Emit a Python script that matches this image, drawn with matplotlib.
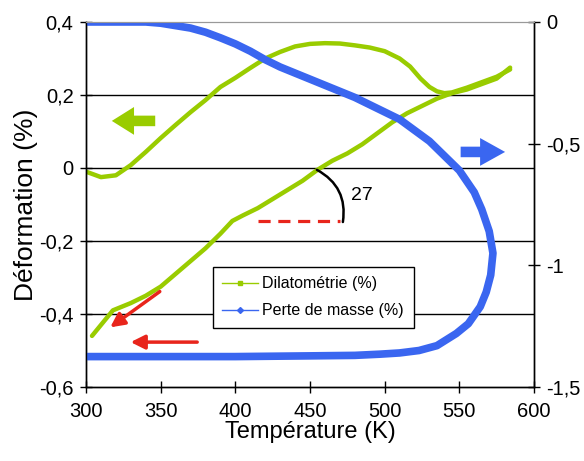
import matplotlib.pyplot as plt
from matplotlib.lines import Line2D

plt.rcParams['font.family'] = ['Liberation Sans', 'DejaVu Sans']

# dilatometry: heating branch then cooling branch (deformation %, left axis)
dil_T_heat = [304, 310, 318, 330, 340, 350, 360, 370, 380, 390, 398, 405, 415, 425, 435,
              445, 455, 465, 475, 485, 495, 505, 515, 525, 535, 545, 555, 565, 575, 584]
dil_heat = [-0.46, -0.43, -0.39, -0.37, -0.35, -0.325, -0.29, -0.255, -0.22, -0.18, -0.145,
            -0.13, -0.11, -0.085, -0.06, -0.035, -0.005, 0.02, 0.04, 0.065, 0.095, 0.125,
            0.15, 0.17, 0.19, 0.205, 0.215, 0.23, 0.245, 0.275]
dil_T_cool = [584, 575, 565, 555, 545, 540, 535, 530, 524, 517, 510, 500, 490, 480, 470, 460,
              450, 440, 430, 420, 410, 400, 390, 380, 370, 360, 350, 340, 330, 320, 310, 300]
dil_cool = [0.27, 0.25, 0.235, 0.22, 0.207, 0.205, 0.21, 0.222, 0.245, 0.278, 0.3, 0.32,
            0.33, 0.336, 0.341, 0.342, 0.34, 0.333, 0.318, 0.30, 0.274, 0.247, 0.222, 0.186,
            0.153, 0.118, 0.082, 0.044, 0.008, -0.02, -0.025, -0.01]

# mass loss (%), right axis
mass_T = [300, 320, 340, 350, 360, 370, 380, 390, 400, 410, 420, 430, 440, 450, 460, 470,
          480, 490, 500, 510, 520, 530, 540, 550, 560, 565, 570, 572.5, 571, 568, 564, 556,
          548, 535, 523, 510, 497, 480, 450, 400, 350, 300]
mass = [0, 0, 0, -0.005, -0.015, -0.025, -0.042, -0.065, -0.09, -0.12, -0.155, -0.185, -0.21,
        -0.235, -0.26, -0.285, -0.31, -0.34, -0.37, -0.40, -0.445, -0.49, -0.55, -0.61,
        -0.70, -0.77, -0.86, -0.95, -1.04, -1.11, -1.17, -1.24, -1.28, -1.33, -1.35, -1.36,
        -1.365, -1.37, -1.372, -1.375, -1.375, -1.375]

left_ticks = [-0.6, -0.4, -0.2, 0, 0.2, 0.4]
left_labels = ['-0,6', '-0,4', '-0,2', '0', '0,2', '0,4']
right_ticks = [-1.5, -1, -0.5, 0]
right_labels = ['-1,5', '-1', '-0,5', '0']
x_ticks = [300, 350, 400, 450, 500, 550, 600]

green = '#99cc00'
blue = '#3a66f0'
red = '#e8251c'

fig = plt.figure(figsize=(5.84, 4.61), dpi=100)
ax = fig.add_axes([0.1473, 0.1605, 0.7671, 0.7918])
ax2 = ax.twinx()

for y in [-0.4, -0.2, 0, 0.2]:
    ax.axhline(y, color='black', lw=1, zorder=0)

ax.plot(dil_T_heat, dil_heat, color=green, lw=3.2, solid_capstyle='round')
ax.plot(dil_T_cool, dil_cool, color=green, lw=3.2, solid_capstyle='round')
ax2.plot(mass_T, mass, color=blue, lw=5.5, solid_capstyle='round')

ax.set_xlim(300, 600)
ax.set_ylim(-0.6, 0.4)
ax2.set_ylim(-1.5, 0)
ax.set_xticks(x_ticks)
ax.set_xticklabels([str(t) for t in x_ticks])
ax.set_yticks(left_ticks)
ax.set_yticklabels(left_labels)
ax2.set_yticks(right_ticks)
ax2.set_yticklabels(right_labels)

for a in (ax, ax2):
    a.tick_params(direction='inout', length=8, width=1, labelsize=14.5, colors='black')
    a.spines['top'].set_color('#999999')
    a.spines['left'].set_linewidth(1)
    a.spines['right'].set_linewidth(1)
    a.spines['bottom'].set_linewidth(1)
ax.tick_params(axis='x', pad=7)
ax.tick_params(axis='y', pad=5)
ax2.tick_params(axis='y', pad=5)

ax.set_xlabel('Température (K)', fontsize=17, labelpad=0)
ax.set_ylabel('Déformation (%)', fontsize=19, labelpad=1)

# direction arrows
ax.annotate('', xy=(315.4, 0.129), xytext=(348.2, 0.129),
            arrowprops=dict(arrowstyle='simple,head_length=0.8,head_width=1.0,tail_width=0.38',
                            mutation_scale=20, color=green, lw=0))
ax.annotate('', xy=(582.5, 0.044), xytext=(549, 0.044),
            arrowprops=dict(arrowstyle='simple,head_length=0.9,head_width=1.0,tail_width=0.38',
                            mutation_scale=20, color=blue, lw=0))
ax.annotate('', xy=(314.7, -0.441), xytext=(350.9, -0.334),
            arrowprops=dict(arrowstyle='-|>,head_length=0.6,head_width=0.3', lw=2.5,
                            mutation_scale=14, color=red))
ax.annotate('', xy=(328, -0.477), xytext=(376.3, -0.477),
            arrowprops=dict(arrowstyle='-|>,head_length=0.6,head_width=0.3', lw=2.5,
                            mutation_scale=14, color=red))

# angle construction
ax.plot([415, 470], [-0.145, -0.145], color=red, lw=2.3, dashes=(3.8, 2.4))
ax.annotate('', xy=(472, -0.148), xytext=(454.6, -0.005),
            arrowprops=dict(arrowstyle='-', lw=1.8, color='black',
                            connectionstyle='arc3,rad=-0.35', shrinkA=0, shrinkB=0))
ax.text(484.7, -0.074, '27', fontsize=14, ha='center', va='center')

handles = [Line2D([], [], color=green, lw=1, marker='s', markersize=3),
           Line2D([], [], color=blue, lw=1, marker='D', markersize=3)]
leg = ax2.legend(handles, ['Dilatométrie (%)', 'Perte de masse (%)'], loc='lower left',
                 bbox_to_anchor=(0.283, 0.162), fontsize=11.5, fancybox=False,
                 framealpha=1, edgecolor='black', handlelength=2.2, borderpad=0.6,
                 labelspacing=0.75, handletextpad=0.3, borderaxespad=0)
leg.get_frame().set_linewidth(1)

plt.savefig('out.png', dpi=100)
